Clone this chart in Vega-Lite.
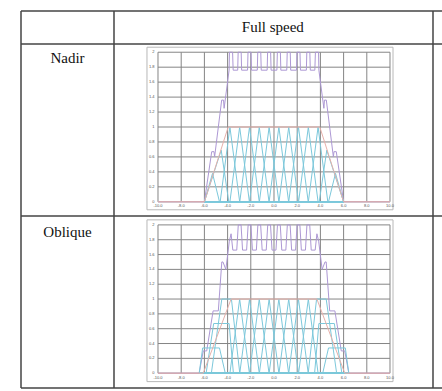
{
  "$schema": "https://vega.github.io/schema/vega-lite/v6.json",
  "width": 421,
  "height": 377,
  "autosize": {"type": "none"},
  "padding": {"left": 21, "top": 11, "right": 0, "bottom": 3},
  "config": {"view": {"stroke": null}},
  "data": {"values": [{}]},
  "datasets": {
    "gx": [{"v":-10,"t":"-10.0"},{"v":-8,"t":"-8.0"},{"v":-6,"t":"-6.0"},{"v":-4,"t":"-4.0"},{"v":-2,"t":"-2.0"},{"v":0,"t":"0.0"},{"v":2,"t":"2.0"},{"v":4,"t":"4.0"},{"v":6,"t":"6.0"},{"v":8,"t":"8.0"},{"v":10,"t":"10.0"}],
    "gy": [{"v":0,"t":"0"},{"v":0.2,"t":"0.2"},{"v":0.4,"t":"0.4"},{"v":0.6,"t":"0.6"},{"v":0.8,"t":"0.8"},{"v":1,"t":"1"},{"v":1.2,"t":"1.2"},{"v":1.4,"t":"1.4"},{"v":1.6,"t":"1.6"},{"v":1.8,"t":"1.8"},{"v":2,"t":"2"}],
    "ne": [{"x":-10,"y":0},{"x":-6,"y":0},{"x":-3.95,"y":1},{"x":3.95,"y":1},{"x":6,"y":0},{"x":10,"y":0}],
    "np": [{"x":-10,"y":0},{"x":-6,"y":0},{"x":-5.37,"y":0.67},{"x":-5.17,"y":0.67},{"x":-5.12,"y":0.6},{"x":-4.51,"y":1.36},{"x":-4.35,"y":1.36},{"x":-4.3,"y":1.25},{"x":-3.87,"y":1.76},
      {"x":-3.84,"y":2},{"x":-3.57,"y":2},{"x":-3.52,"y":1.76},
      {"x":-3.13,"y":1.76},{"x":-3.09,"y":2},{"x":-2.83,"y":2},{"x":-2.79,"y":1.76},
      {"x":-2.28,"y":1.76},{"x":-2.24,"y":2},{"x":-1.98,"y":2},{"x":-1.94,"y":1.76},
      {"x":-1.44,"y":1.76},{"x":-1.4,"y":2},{"x":-1.14,"y":2},{"x":-1.1,"y":1.76},
      {"x":-0.59,"y":1.76},{"x":-0.55,"y":2},{"x":-0.29,"y":2},{"x":-0.25,"y":1.76},
      {"x":0.25,"y":1.76},{"x":0.29,"y":2},{"x":0.55,"y":2},{"x":0.59,"y":1.76},
      {"x":1.1,"y":1.76},{"x":1.14,"y":2},{"x":1.4,"y":2},{"x":1.44,"y":1.76},
      {"x":1.94,"y":1.76},{"x":1.98,"y":2},{"x":2.24,"y":2},{"x":2.28,"y":1.76},
      {"x":2.79,"y":1.76},{"x":2.83,"y":2},{"x":3.09,"y":2},{"x":3.13,"y":1.76},
      {"x":3.52,"y":1.76},{"x":3.57,"y":2},{"x":3.84,"y":2},{"x":3.87,"y":1.76},
      {"x":4.3,"y":1.25},{"x":4.35,"y":1.36},{"x":4.51,"y":1.36},{"x":5.12,"y":0.6},{"x":5.17,"y":0.67},{"x":5.37,"y":0.67},{"x":6,"y":0},{"x":10,"y":0}],
    "nc": [
      {"k":1,"x":-6,"y":0},{"k":1,"x":-5.3,"y":0.38},{"k":1,"x":-4.7,"y":0},{"k":1,"x":6,"y":0},
      {"k":2,"x":-6,"y":0},{"k":2,"x":-4.55,"y":0.69},{"k":2,"x":-3.9,"y":0},{"k":2,"x":6,"y":0},
      {"k":3,"x":-6,"y":0},{"k":3,"x":-4.64,"y":0},{"k":3,"x":-3.8,"y":1},{"k":3,"x":-2.96,"y":0},{"k":3,"x":6,"y":0},
      {"k":4,"x":-6,"y":0},{"k":4,"x":-3.8,"y":0},{"k":4,"x":-2.96,"y":1},{"k":4,"x":-2.12,"y":0},{"k":4,"x":6,"y":0},
      {"k":5,"x":-6,"y":0},{"k":5,"x":-2.95,"y":0},{"k":5,"x":-2.11,"y":1},{"k":5,"x":-1.27,"y":0},{"k":5,"x":6,"y":0},
      {"k":6,"x":-6,"y":0},{"k":6,"x":-2.11,"y":0},{"k":6,"x":-1.27,"y":1},{"k":6,"x":-0.43,"y":0},{"k":6,"x":6,"y":0},
      {"k":7,"x":-6,"y":0},{"k":7,"x":-1.26,"y":0},{"k":7,"x":-0.42,"y":1},{"k":7,"x":0.42,"y":0},{"k":7,"x":6,"y":0},
      {"k":8,"x":-6,"y":0},{"k":8,"x":-0.42,"y":0},{"k":8,"x":0.42,"y":1},{"k":8,"x":1.26,"y":0},{"k":8,"x":6,"y":0},
      {"k":9,"x":-6,"y":0},{"k":9,"x":0.43,"y":0},{"k":9,"x":1.27,"y":1},{"k":9,"x":2.11,"y":0},{"k":9,"x":6,"y":0},
      {"k":10,"x":-6,"y":0},{"k":10,"x":1.27,"y":0},{"k":10,"x":2.11,"y":1},{"k":10,"x":2.95,"y":0},{"k":10,"x":6,"y":0},
      {"k":11,"x":-6,"y":0},{"k":11,"x":2.12,"y":0},{"k":11,"x":2.96,"y":1},{"k":11,"x":3.8,"y":0},{"k":11,"x":6,"y":0},
      {"k":12,"x":-6,"y":0},{"k":12,"x":2.96,"y":0},{"k":12,"x":3.8,"y":1},{"k":12,"x":4.64,"y":0},{"k":12,"x":6,"y":0},
      {"k":13,"x":-6,"y":0},{"k":13,"x":3.9,"y":0},{"k":13,"x":4.55,"y":0.69},{"k":13,"x":6,"y":0},
      {"k":14,"x":-6,"y":0},{"k":14,"x":4.7,"y":0},{"k":14,"x":5.3,"y":0.38},{"k":14,"x":6,"y":0}
    ],
    "oe": [{"x":-10,"y":0},{"x":-6.1,"y":0},{"x":-3.7,"y":1},{"x":3.7,"y":1},{"x":6.1,"y":0},{"x":10,"y":0}],
    "op": [{"x":-10,"y":0},{"x":-6.45,"y":0},{"x":-6.1,"y":0.3},{"x":-5.8,"y":0.3},{"x":-5.25,"y":0.84},{"x":-4.8,"y":0.84},{"x":-4.5,"y":1.5},{"x":-4.4,"y":1.5},{"x":-4.15,"y":1.4},{"x":-3.85,"y":1.78},{"x":-3.7,"y":1.88},{"x":-3.55,"y":1.66},
      {"x":-3.21,"y":1.66},{"x":-3.08,"y":2},{"x":-2.84,"y":2},{"x":-2.71,"y":1.66},
      {"x":-2.36,"y":1.66},{"x":-2.23,"y":2},{"x":-1.99,"y":2},{"x":-1.86,"y":1.66},
      {"x":-1.52,"y":1.66},{"x":-1.39,"y":2},{"x":-1.15,"y":2},{"x":-1.02,"y":1.66},
      {"x":-0.67,"y":1.66},{"x":-0.54,"y":2},{"x":-0.3,"y":2},{"x":-0.17,"y":1.66},
      {"x":0.17,"y":1.66},{"x":0.3,"y":2},{"x":0.54,"y":2},{"x":0.67,"y":1.66},
      {"x":1.02,"y":1.66},{"x":1.15,"y":2},{"x":1.39,"y":2},{"x":1.52,"y":1.66},
      {"x":1.86,"y":1.66},{"x":1.99,"y":2},{"x":2.23,"y":2},{"x":2.36,"y":1.66},
      {"x":2.71,"y":1.66},{"x":2.84,"y":2},{"x":3.08,"y":2},{"x":3.21,"y":1.66},
      {"x":3.55,"y":1.66},{"x":3.7,"y":1.88},{"x":3.85,"y":1.78},{"x":4.15,"y":1.4},{"x":4.4,"y":1.5},{"x":4.5,"y":1.5},{"x":4.8,"y":0.84},{"x":5.25,"y":0.84},{"x":5.8,"y":0.3},{"x":6.1,"y":0.3},{"x":6.45,"y":0},{"x":10,"y":0}],
    "oc": [
      {"k":1,"x":-6.45,"y":0},{"k":1,"x":-6.15,"y":0.34},{"k":1,"x":-4.7,"y":0.34},{"k":1,"x":-4.2,"y":0},{"k":1,"x":6.45,"y":0},
      {"k":2,"x":-6.45,"y":0},{"k":2,"x":-5.85,"y":0},{"k":2,"x":-5.2,"y":0.67},{"k":2,"x":-3.87,"y":0.67},{"k":2,"x":-3.5,"y":0},{"k":2,"x":6.45,"y":0},
      {"k":3,"x":-6.45,"y":0},{"k":3,"x":-5.4,"y":0},{"k":3,"x":-4.5,"y":1},{"k":3,"x":-3.67,"y":1},{"k":3,"x":-2.95,"y":0},{"k":3,"x":6.45,"y":0},
      {"k":4,"x":-6.45,"y":0},{"k":4,"x":-3.8,"y":0},{"k":4,"x":-2.96,"y":1},{"k":4,"x":-2.12,"y":0},{"k":4,"x":6.45,"y":0},
      {"k":5,"x":-6.45,"y":0},{"k":5,"x":-2.95,"y":0},{"k":5,"x":-2.11,"y":1},{"k":5,"x":-1.27,"y":0},{"k":5,"x":6.45,"y":0},
      {"k":6,"x":-6.45,"y":0},{"k":6,"x":-2.11,"y":0},{"k":6,"x":-1.27,"y":1},{"k":6,"x":-0.43,"y":0},{"k":6,"x":6.45,"y":0},
      {"k":7,"x":-6.45,"y":0},{"k":7,"x":-1.26,"y":0},{"k":7,"x":-0.42,"y":1},{"k":7,"x":0.42,"y":0},{"k":7,"x":6.45,"y":0},
      {"k":8,"x":-6.45,"y":0},{"k":8,"x":-0.42,"y":0},{"k":8,"x":0.42,"y":1},{"k":8,"x":1.26,"y":0},{"k":8,"x":6.45,"y":0},
      {"k":9,"x":-6.45,"y":0},{"k":9,"x":0.43,"y":0},{"k":9,"x":1.27,"y":1},{"k":9,"x":2.11,"y":0},{"k":9,"x":6.45,"y":0},
      {"k":10,"x":-6.45,"y":0},{"k":10,"x":1.27,"y":0},{"k":10,"x":2.11,"y":1},{"k":10,"x":2.95,"y":0},{"k":10,"x":6.45,"y":0},
      {"k":11,"x":-6.45,"y":0},{"k":11,"x":2.12,"y":0},{"k":11,"x":2.96,"y":1},{"k":11,"x":3.8,"y":0},{"k":11,"x":6.45,"y":0},
      {"k":12,"x":-6.45,"y":0},{"k":12,"x":2.95,"y":0},{"k":12,"x":3.67,"y":1},{"k":12,"x":4.5,"y":1},{"k":12,"x":5.4,"y":0},{"k":12,"x":6.45,"y":0},
      {"k":13,"x":-6.45,"y":0},{"k":13,"x":3.5,"y":0},{"k":13,"x":3.87,"y":0.67},{"k":13,"x":5.2,"y":0.67},{"k":13,"x":5.85,"y":0},{"k":13,"x":6.45,"y":0},
      {"k":14,"x":-6.45,"y":0},{"k":14,"x":4.2,"y":0},{"k":14,"x":4.7,"y":0.34},{"k":14,"x":6.15,"y":0.34},{"k":14,"x":6.45,"y":0}
    ]
  },
  "resolve": {"scale": {"y": "independent"}},
  "layer": [
    {
      "layer": [
        {"mark": {"type": "rule", "color": "#444444", "strokeWidth": 1.5},
         "encoding": {"x": {"datum": -21.81, "type": "quantitative", "scale": {"domain": [-21.81, 14.483], "nice": false, "zero": false}, "axis": null},
                      "y": {"datum": -2.49, "type": "quantitative", "scale": {"domain": [-0.19, 2.11], "range": [205, 33], "nice": false, "zero": false}, "axis": null}, "y2": {"datum": 2.551}}},
        {"mark": {"type": "rule", "color": "#444444", "strokeWidth": 1.5},
         "encoding": {"x": {"datum": -13.793, "type": "quantitative", "scale": {"domain": [-21.81, 14.483], "nice": false, "zero": false}, "axis": null},
                      "y": {"datum": -2.49, "type": "quantitative", "scale": {"domain": [-0.19, 2.11], "range": [205, 33], "nice": false, "zero": false}, "axis": null}, "y2": {"datum": 2.551}}},
        {"mark": {"type": "rule", "color": "#444444", "strokeWidth": 1.5},
         "encoding": {"x": {"datum": 13.707, "type": "quantitative", "scale": {"domain": [-21.81, 14.483], "nice": false, "zero": false}, "axis": null},
                      "y": {"datum": -2.49, "type": "quantitative", "scale": {"domain": [-0.19, 2.11], "range": [205, 33], "nice": false, "zero": false}, "axis": null}, "y2": {"datum": 2.551}}},
        {"mark": {"type": "rule", "color": "#444444", "strokeWidth": 1.5},
         "encoding": {"y": {"datum": 2.551, "type": "quantitative", "scale": {"domain": [-0.19, 2.11], "range": [205, 33], "nice": false, "zero": false}, "axis": null},
                      "x": {"datum": -21.81, "type": "quantitative", "scale": {"domain": [-21.81, 14.483], "nice": false, "zero": false}, "axis": null}, "x2": {"datum": 14.483}}},
        {"mark": {"type": "rule", "color": "#444444", "strokeWidth": 1.5},
         "encoding": {"y": {"datum": 2.11, "type": "quantitative", "scale": {"domain": [-0.19, 2.11], "range": [205, 33], "nice": false, "zero": false}, "axis": null},
                      "x": {"datum": -21.81, "type": "quantitative", "scale": {"domain": [-21.81, 14.483], "nice": false, "zero": false}, "axis": null}, "x2": {"datum": 14.483}}},
        {"mark": {"type": "rule", "color": "#444444", "strokeWidth": 1.5},
         "encoding": {"y": {"datum": -0.19, "type": "quantitative", "scale": {"domain": [-0.19, 2.11], "range": [205, 33], "nice": false, "zero": false}, "axis": null},
                      "x": {"datum": -21.81, "type": "quantitative", "scale": {"domain": [-21.81, 14.483], "nice": false, "zero": false}, "axis": null}, "x2": {"datum": 14.483}}},
        {"mark": {"type": "rule", "color": "#444444", "strokeWidth": 1.5},
         "encoding": {"y": {"datum": -2.49, "type": "quantitative", "scale": {"domain": [-0.19, 2.11], "range": [205, 33], "nice": false, "zero": false}, "axis": null},
                      "x": {"datum": -21.81, "type": "quantitative", "scale": {"domain": [-21.81, 14.483], "nice": false, "zero": false}, "axis": null}, "x2": {"datum": 14.483}}},
        {"mark": {"type": "text", "font": "Liberation Serif", "fontSize": 15, "color": "#111111", "baseline": "middle", "align": "center"},
         "encoding": {"x": {"datum": -0.1, "type": "quantitative", "scale": {"domain": [-21.81, 14.483], "nice": false, "zero": false}, "axis": null},
                      "y": {"datum": 2.331, "type": "quantitative", "scale": {"domain": [-0.19, 2.11], "range": [205, 33], "nice": false, "zero": false}, "axis": null},
                      "text": {"value": "Full speed"}}},
        {"mark": {"type": "text", "font": "Liberation Serif", "fontSize": 15, "color": "#111111", "baseline": "middle", "align": "center"},
         "encoding": {"x": {"datum": -17.8, "type": "quantitative", "scale": {"domain": [-21.81, 14.483], "nice": false, "zero": false}, "axis": null},
                      "y": {"datum": 1.923, "type": "quantitative", "scale": {"domain": [-0.19, 2.11], "range": [205, 33], "nice": false, "zero": false}, "axis": null},
                      "text": {"value": "Nadir"}}},
        {"mark": {"type": "rect", "fillOpacity": 0, "stroke": "#b8b8b8", "strokeWidth": 1},
         "encoding": {"x": {"datum": -10.95, "type": "quantitative", "scale": {"domain": [-21.81, 14.483], "nice": false, "zero": false}, "axis": null}, "x2": {"datum": 10.26},
                      "y": {"datum": -0.107, "type": "quantitative", "scale": {"domain": [-0.19, 2.11], "range": [205, 33], "nice": false, "zero": false}, "axis": null}, "y2": {"datum": 2.067}}},
        {"data": {"name": "gx"}, "mark": {"type": "rule", "color": "#858585", "strokeWidth": 1},
         "encoding": {"x": {"field": "v", "type": "quantitative", "scale": {"domain": [-21.81, 14.483], "nice": false, "zero": false}, "axis": null},
                      "y": {"datum": 0, "type": "quantitative", "scale": {"domain": [-0.19, 2.11], "range": [205, 33], "nice": false, "zero": false}, "axis": null}, "y2": {"datum": 2}}},
        {"data": {"name": "gy"}, "mark": {"type": "rule", "color": "#858585", "strokeWidth": 1},
         "encoding": {"y": {"field": "v", "type": "quantitative", "scale": {"domain": [-0.19, 2.11], "range": [205, 33], "nice": false, "zero": false}, "axis": null},
                      "x": {"datum": -10, "type": "quantitative", "scale": {"domain": [-21.81, 14.483], "nice": false, "zero": false}, "axis": null}, "x2": {"datum": 10}}},
        {"data": {"name": "np"}, "mark": {"type": "line", "color": "#ad98d4", "strokeWidth": 1},
         "encoding": {"x": {"field": "x", "type": "quantitative", "scale": {"domain": [-21.81, 14.483], "nice": false, "zero": false}, "axis": null},
                      "y": {"field": "y", "type": "quantitative", "scale": {"domain": [-0.19, 2.11], "range": [205, 33], "nice": false, "zero": false}, "axis": null}}},
        {"data": {"name": "nc"}, "mark": {"type": "line", "color": "#7cc8db", "strokeWidth": 1},
         "encoding": {"x": {"field": "x", "type": "quantitative", "scale": {"domain": [-21.81, 14.483], "nice": false, "zero": false}, "axis": null},
                      "y": {"field": "y", "type": "quantitative", "scale": {"domain": [-0.19, 2.11], "range": [205, 33], "nice": false, "zero": false}, "axis": null},
                      "detail": {"field": "k", "type": "nominal"}}},
        {"data": {"name": "ne"}, "mark": {"type": "line", "color": "#e6b0aa", "strokeWidth": 1},
         "encoding": {"x": {"field": "x", "type": "quantitative", "scale": {"domain": [-21.81, 14.483], "nice": false, "zero": false}, "axis": null},
                      "y": {"field": "y", "type": "quantitative", "scale": {"domain": [-0.19, 2.11], "range": [205, 33], "nice": false, "zero": false}, "axis": null}}},
        {"data": {"name": "gy"}, "mark": {"type": "text", "fontSize": 4, "align": "right", "baseline": "middle", "color": "#555555"},
         "encoding": {"y": {"field": "v", "type": "quantitative", "scale": {"domain": [-0.19, 2.11], "range": [205, 33], "nice": false, "zero": false}, "axis": null},
                      "x": {"datum": -10.3, "type": "quantitative", "scale": {"domain": [-21.81, 14.483], "nice": false, "zero": false}, "axis": null}, "text": {"field": "t"}}},
        {"data": {"name": "gx"}, "mark": {"type": "text", "fontSize": 4, "align": "center", "baseline": "middle", "color": "#555555"},
         "encoding": {"x": {"field": "v", "type": "quantitative", "scale": {"domain": [-21.81, 14.483], "nice": false, "zero": false}, "axis": null},
                      "y": {"datum": -0.055, "type": "quantitative", "scale": {"domain": [-0.19, 2.11], "range": [205, 33], "nice": false, "zero": false}, "axis": null}, "text": {"field": "t"}}}
      ]
    },
    {
      "layer": [
        {"mark": {"type": "text", "font": "Liberation Serif", "fontSize": 15, "color": "#111111", "baseline": "middle", "align": "center"},
         "encoding": {"x": {"datum": -17.8, "type": "quantitative", "scale": {"domain": [-21.81, 14.483], "nice": false, "zero": false}, "axis": null},
                      "y": {"datum": 1.904, "type": "quantitative", "scale": {"domain": [-0.2, 2.12], "range": [377, 205], "nice": false, "zero": false}, "axis": null},
                      "text": {"value": "Oblique"}}},
        {"mark": {"type": "rect", "fillOpacity": 0, "stroke": "#b8b8b8", "strokeWidth": 1},
         "encoding": {"x": {"datum": -10.95, "type": "quantitative", "scale": {"domain": [-21.81, 14.483], "nice": false, "zero": false}, "axis": null}, "x2": {"datum": 10.26},
                      "y": {"datum": -0.114, "type": "quantitative", "scale": {"domain": [-0.2, 2.12], "range": [377, 205], "nice": false, "zero": false}, "axis": null}, "y2": {"datum": 2.068}}},
        {"data": {"name": "gx"}, "mark": {"type": "rule", "color": "#858585", "strokeWidth": 1},
         "encoding": {"x": {"field": "v", "type": "quantitative", "scale": {"domain": [-21.81, 14.483], "nice": false, "zero": false}, "axis": null},
                      "y": {"datum": 0, "type": "quantitative", "scale": {"domain": [-0.2, 2.12], "range": [377, 205], "nice": false, "zero": false}, "axis": null}, "y2": {"datum": 2}}},
        {"data": {"name": "gy"}, "mark": {"type": "rule", "color": "#858585", "strokeWidth": 1},
         "encoding": {"y": {"field": "v", "type": "quantitative", "scale": {"domain": [-0.2, 2.12], "range": [377, 205], "nice": false, "zero": false}, "axis": null},
                      "x": {"datum": -10, "type": "quantitative", "scale": {"domain": [-21.81, 14.483], "nice": false, "zero": false}, "axis": null}, "x2": {"datum": 10}}},
        {"data": {"name": "op"}, "mark": {"type": "line", "color": "#ad98d4", "strokeWidth": 1},
         "encoding": {"x": {"field": "x", "type": "quantitative", "scale": {"domain": [-21.81, 14.483], "nice": false, "zero": false}, "axis": null},
                      "y": {"field": "y", "type": "quantitative", "scale": {"domain": [-0.2, 2.12], "range": [377, 205], "nice": false, "zero": false}, "axis": null}}},
        {"data": {"name": "oc"}, "mark": {"type": "line", "color": "#7cc8db", "strokeWidth": 1},
         "encoding": {"x": {"field": "x", "type": "quantitative", "scale": {"domain": [-21.81, 14.483], "nice": false, "zero": false}, "axis": null},
                      "y": {"field": "y", "type": "quantitative", "scale": {"domain": [-0.2, 2.12], "range": [377, 205], "nice": false, "zero": false}, "axis": null},
                      "detail": {"field": "k", "type": "nominal"}}},
        {"data": {"name": "oe"}, "mark": {"type": "line", "color": "#e6b0aa", "strokeWidth": 1},
         "encoding": {"x": {"field": "x", "type": "quantitative", "scale": {"domain": [-21.81, 14.483], "nice": false, "zero": false}, "axis": null},
                      "y": {"field": "y", "type": "quantitative", "scale": {"domain": [-0.2, 2.12], "range": [377, 205], "nice": false, "zero": false}, "axis": null}}},
        {"data": {"name": "gy"}, "mark": {"type": "text", "fontSize": 4, "align": "right", "baseline": "middle", "color": "#555555"},
         "encoding": {"y": {"field": "v", "type": "quantitative", "scale": {"domain": [-0.2, 2.12], "range": [377, 205], "nice": false, "zero": false}, "axis": null},
                      "x": {"datum": -10.3, "type": "quantitative", "scale": {"domain": [-21.81, 14.483], "nice": false, "zero": false}, "axis": null}, "text": {"field": "t"}}},
        {"data": {"name": "gx"}, "mark": {"type": "text", "fontSize": 4, "align": "center", "baseline": "middle", "color": "#555555"},
         "encoding": {"x": {"field": "v", "type": "quantitative", "scale": {"domain": [-21.81, 14.483], "nice": false, "zero": false}, "axis": null},
                      "y": {"datum": -0.06, "type": "quantitative", "scale": {"domain": [-0.2, 2.12], "range": [377, 205], "nice": false, "zero": false}, "axis": null}, "text": {"field": "t"}}}
      ]
    }
  ]
}
